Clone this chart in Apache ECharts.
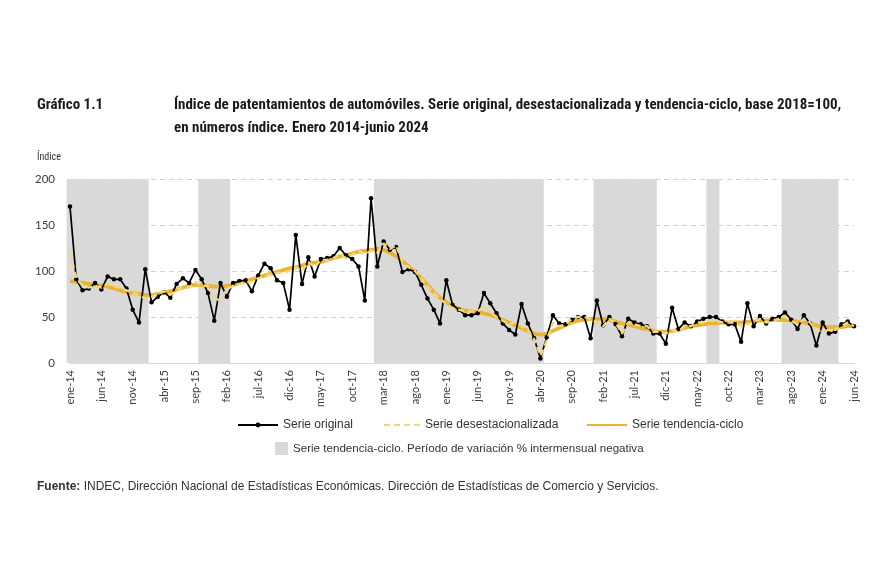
<!DOCTYPE html>
<html>
<head>
<meta charset="utf-8">
<script src="https://cdn.jsdelivr.net/npm/echarts@6/dist/echarts.min.js"></script>
<style>
html,body{margin:0;padding:0;background:#fff;}
#chart{width:870px;height:580px;}
</style>
</head>
<body>
<div id="chart"></div>
<script>
// ---- Data ----
const monthNames = ['ene','feb','mar','abr','may','jun','jul','ago','sep','oct','nov','dic'];
const years = ['14','15','16','17','18','19','20','21','22','23','24'];
const lastMonthCount = 126; // ene-14 .. jun-24

const serieOriginal = [
 170,91,79,81,87,80,94,91,91,81,58,44,
 102,66,72,77,71,86,92,87,101,91,76,46,
 87,72,87,89,90,78,95,108,103,90,87,58,
 139,86,115,94,113,114,116,125,117,113,105,68,
 179,105,132,123,126,99,102,99,85,70,58,43,
 90,63,58,52,52,54,76,65,54,43,36,31,
 64,43,27,5,28,52,43,42,47,50,50,27,
 68,41,50,42,29,48,44,42,40,32,32,21,
 60,37,44,40,45,48,50,50,45,42,42,23,
 65,40,51,43,48,50,55,47,37,52,43,19,
 44,32,34,42,45,40
];
const serieDesestacionalizada = [
 120,92,84,82,84,82,86,83,82,79,76,74,
 70,72,74,78,74,80,82,82,88,84,84,70,
 68,80,84,86,88,88,92,94,96,98,98,100,
 104,100,110,104,112,112,114,118,114,118,122,118,
 122,120,130,124,128,110,104,100,92,84,76,70,
 64,60,58,56,56,56,62,56,50,46,42,44,
 40,36,26,8,24,44,40,42,48,50,50,48,
 44,40,48,44,32,44,42,40,40,34,34,32,
 36,34,40,40,44,44,46,46,44,44,44,40,
 42,44,48,44,46,48,50,46,42,48,44,36,
 34,36,36,40,44,40
];
const serieTendencia = [
 89,88,87,86,85,84,83,81,79,77,76,75,
 74,74,75,76,78,80,82,84,85,85,84,83,
 83,84,85,87,89,91,93,95,97,99,101,103,
 104,106,108,109,110,112,114,116,117,119,121,122,
 123,124,123,120,116,111,105,99,92,85,77,71,
 66,62,59,57,56,55,54,52,50,47,44,41,
 38,35,32,31,32,35,38,41,44,46,47,48,
 48,48,47,45,43,42,40,38,37,35,34,34,
 35,36,38,40,41,42,43,43,44,44,44,44,
 45,45,46,46,47,47,47,46,45,44,43,41,
 40,39,39,39,40,40
];
// Periods of negative month-on-month variation of the trend-cycle (first, last month)
const periodosNegativos = [
 ['ene-14','ene-15'],
 ['oct-15','feb-16'],
 ['feb-18','abr-20'],
 ['ene-21','oct-21'],
 ['jul-22','ago-22'],
 ['jul-23','mar-24']
];
const yTicks = [0,50,100,150,200];

// ---- Build categories ----
const categories = [];
for (const y of years) for (const m of monthNames) {
  if (categories.length < lastMonthCount) categories.push(m + '-' + y);
}
const bandData = categories.map(() => '-');
for (const [a,b] of periodosNegativos) {
  const s = categories.indexOf(a), e = categories.indexOf(b);
  for (let k = s; k <= e; k++) bandData[k] = yTicks[yTicks.length-1];
}

const GOLD = '#E8B532';
const PALE = '#F5D778';
const narrow = '"Liberation Sans Narrow","Roboto Condensed","Arial Narrow",sans-serif';
const legFont = {color:'#333', fontSize:12, fontFamily:'"Liberation Sans", Arial, sans-serif'};
const legFont2 = {color:'#333', fontSize:11.6, fontFamily:'"Liberation Sans", Arial, sans-serif'};
const BAND_NAME = 'Serie tendencia-ciclo. Período de variación % intermensual negativa';

const chart = echarts.init(document.getElementById('chart'), null, {renderer:'canvas'});
chart.setOption({
  animation:false,
  backgroundColor:'#fff',
  grid:{left:70, right:16, top:179, bottom:217, containLabel:false},
  xAxis:{
    type:'category', data:categories, boundaryGap:false,
    axisLine:{show:true, lineStyle:{color:'#d9d9d9', width:1}},
    axisTick:{show:false},
    axisLabel:{interval:4, rotate:90, margin:7, color:'#404040', fontSize:11, fontFamily:'Lato, "Open Sans", sans-serif'},
    splitLine:{show:false}
  },
  yAxis:{
    type:'value', min:0, max:200, interval:50,
    axisLine:{show:false}, axisTick:{show:false},
    axisLabel:{color:'#404040', fontSize:11.5, margin:15, fontFamily:'Lato, "Open Sans", sans-serif'},
    splitLine:{show:true, lineStyle:{color:'#d0d0d0', type:[5,4], width:1}}
  },
  legend:[
    {data:['Serie original'], left:237, top:419, padding:0, itemWidth:40, itemHeight:6, itemGap:4, textStyle:legFont, selectedMode:false},
    {data:[{name:'Serie desestacionalizada', itemStyle:{opacity:0}}], left:383, top:419, padding:0, itemWidth:36, itemHeight:6, textStyle:legFont, selectedMode:false},
    {data:[{name:'Serie tendencia-ciclo', itemStyle:{opacity:0}}], left:586, top:419, padding:0, itemWidth:40, itemHeight:6, textStyle:legFont, selectedMode:false},
    {data:[{name:BAND_NAME, icon:'rect'}], left:275, top:442, padding:0, itemWidth:13, itemHeight:13, textStyle:legFont2, selectedMode:false}
  ],
  series:[
    {
      name:BAND_NAME,
      type:'bar', data:bandData, barWidth:6.8, barGap:'-100%',
      itemStyle:{color:'#d9d9d9'}, silent:true, z:1, clip:true
    },
    {
      name:'Serie tendencia-ciclo', type:'line', data:serieTendencia,
      showSymbol:false, symbol:'none', smooth:0.3,
      lineStyle:{color:GOLD, width:3.8}, itemStyle:{color:GOLD}, z:3
    },
    {
      name:'Serie original', type:'line', data:serieOriginal,
      symbol:'circle', symbolSize:4.5, showSymbol:true, showAllSymbol:true,
      lineStyle:{color:'#000', width:1.7}, itemStyle:{color:'#000'}, z:4
    },
    {
      name:'Serie desestacionalizada', type:'line', data:serieDesestacionalizada,
      symbol:'none', showSymbol:false,
      lineStyle:{color:PALE, width:2.4, type:[6,4]}, itemStyle:{color:PALE}, z:5
    }
  ],
  graphic:[
    {type:'text', left:37, top:98, style:{text:'Gráfico 1.1', font:'bold 15px ' + narrow, fill:'#1a1a1a'}},
    {type:'text', left:174, top:98, style:{text:'Índice de patentamientos de automóviles. Serie original, desestacionalizada y tendencia-ciclo, base 2018=100,', font:'bold 15px ' + narrow, fill:'#1a1a1a'}},
    {type:'text', left:174, top:121, style:{text:'en números índice. Enero 2014-junio 2024', font:'bold 15px ' + narrow, fill:'#1a1a1a'}},
    {type:'text', left:37, top:152, style:{text:'Índice', font:'10px ' + narrow, fill:'#333'}},
    {type:'text', left:37, top:481, style:{
      text:'{b|Fuente:} INDEC, Dirección Nacional de Estadísticas Económicas. Dirección de Estadísticas de Comercio y Servicios.',
      font:'12px "Liberation Sans", Arial, sans-serif', fill:'#333',
      rich:{b:{fontWeight:'bold', fontSize:12, fontFamily:'"Liberation Sans", Arial, sans-serif', fill:'#333'}}
    }}
  ]
});
</script>
</body>
</html>
